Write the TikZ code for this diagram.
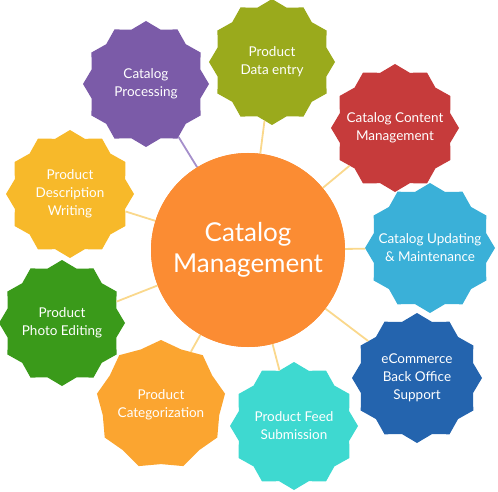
\documentclass[tikz,border=0pt]{standalone}
\usepackage{fontspec}
\setmainfont{Lato}
\usetikzlibrary{shapes.geometric}
\definecolor{cpurple}{HTML}{7B5BA8}
\definecolor{colive}{HTML}{9AAA1C}
\definecolor{cred}{HTML}{C63B3B}
\definecolor{ccyan}{HTML}{3AB0D8}
\definecolor{cblue}{HTML}{2464AE}
\definecolor{cturq}{HTML}{3ED9D0}
\definecolor{corange}{HTML}{FBA530}
\definecolor{cgreen}{HTML}{3A9A1A}
\definecolor{cyellow}{HTML}{F7B92A}
\definecolor{ccenter}{HTML}{FB8C33}
\definecolor{cline}{HTML}{FAD88C}
\definecolor{cpline}{HTML}{A58FCB}
\tikzset{
  burst/.style={star, star points=12, star point ratio=1.12, minimum size=#1, inner sep=0pt, draw=none},
  lbl/.style={text=white, align=center, font=\fontsize{13.5}{18}\selectfont},
  conn/.style={draw=cline, line width=1.8pt},
}
\begin{document}
\begin{tikzpicture}[x=1pt,y=-1pt]
\useasboundingbox (0,0) rectangle (498,492);
\node[circle, fill=ccenter, minimum size=194pt, inner sep=0pt] (c) at (248,250) {};
\node[burst=126pt, fill=cpurple] (s1) at (146,84) {};
\node[burst=126pt, fill=colive] (s2) at (272,62) {};
\node[burst=128pt, fill=cred] (s3) at (395,128) {};
\node[burst=130pt, fill=ccyan] (s4) at (430,248) {};
\node[burst=130pt, fill=cblue] (s5) at (417,378) {};
\node[burst=128pt, fill=cturq] (s6) at (294,426) {};
\node[burst=130pt, fill=corange, star points=9, star point ratio=1.1] (s7) at (161,405) {};
\node[burst=126pt, fill=cgreen] (s8) at (62,323) {};
\node[burst=128pt, fill=cyellow] (s9) at (70,194) {};
\draw[draw=cpline, line width=1.8pt] (c) -- (s1);
\foreach \s in {s2,s3,s4,s5,s6,s7,s8,s9} \draw[conn] (c) -- (\s);
\node[circle, fill=ccenter, minimum size=194pt, inner sep=0pt] (c2) at (c) {};
\node[text=white, align=center, font=\fontsize{26}{31}\selectfont] (ct) at (c) {Catalog\\Management};
\node[lbl] (t1) at (s1) {Catalog\\Processing};
\node[lbl] (t2) at (s2) {Product\\Data entry};
\node[lbl] (t3) at (s3) {Catalog Content\\Management};
\node[lbl] (t4) at (s4) {Catalog Updating\\\& Maintenance};
\node[lbl] (t5) at (s5) {eCommerce\\Back Office\\Support};
\node[lbl] (t6) at (s6) {Product Feed\\Submission};
\node[lbl] (t7) at (s7) {Product\\Categorization};
\node[lbl] (t8) at (s8) {Product\\Photo Editing};
\node[lbl] (t9) at (s9) {Product\\Description\\Writing};
\end{tikzpicture}
\end{document}
